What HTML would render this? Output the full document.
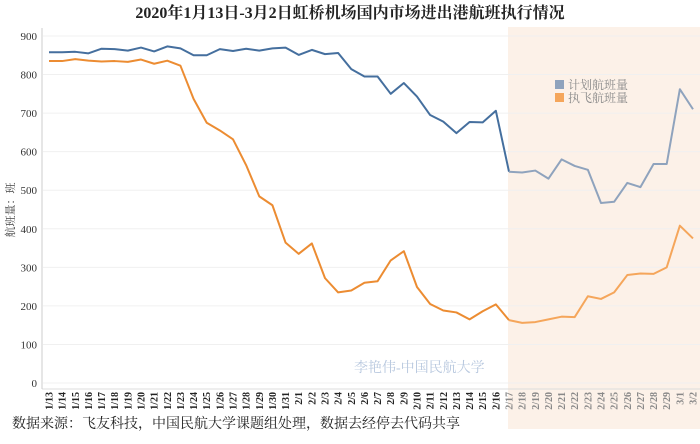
<!DOCTYPE html>
<html><head><meta charset="utf-8"><style>
body{margin:0;background:#fff;}
svg text{font-family:"Liberation Serif","Noto Serif CJK SC",serif;}
</style></head><body>
<svg id="chart" width="700" height="439" xmlns="http://www.w3.org/2000/svg">
<rect x="508" y="27" width="192" height="402" fill="#fcf1e8"/>
<text x="350" y="18" text-anchor="middle" font-size="16" font-weight="bold" fill="#222">2020年1月13日-3月2日虹桥机场国内市场进出港航班执行情况</text>
<g id="grid"></g><g id="yt"></g><g id="xt"></g><g id="lines"></g>
<line x1="42" y1="28" x2="42" y2="389" stroke="#ccc"/>
<text x="14" y="210" font-size="11" fill="#444" transform="rotate(-90 14 210)" text-anchor="middle">航班量：班</text>
<g>
<rect x="555" y="80" width="9" height="9" fill="#8fa3bd"/>
<text x="568" y="89" font-size="12" fill="#8a8a8a">计划航班量</text>
<rect x="555" y="93" width="9" height="9" fill="#f5a65b"/>
<text x="568" y="102" font-size="12" fill="#8a8a8a">执飞航班量</text>
</g>
<text x="354" y="372" font-size="14" fill="#b7c7de">李艳伟-中国民航大学</text>
<text x="12" y="428" font-size="14" fill="#222">数据来源：飞友科技，中国民航大学课题组处理，数据去经停去代码共享</text>
</svg>
<script>
const dates=["1/13","1/14","1/15","1/16","1/17","1/18","1/19","1/20","1/21","1/22","1/23","1/24","1/25","1/26","1/27","1/28","1/29","1/30","1/31","2/1","2/2","2/3","2/4","2/5","2/6","2/7","2/8","2/9","2/10","2/11","2/12","2/13","2/14","2/15","2/16","2/17","2/18","2/19","2/20","2/21","2/22","2/23","2/24","2/25","2/26","2/27","2/28","2/29","3/1","3/2"];
const planned=[858,858,859,855,867,866,862,870,860,873,868,850,850,866,861,867,862,868,870,851,864,853,856,814,795,795,750,778,743,695,678,648,677,676,706,548,546,551,530,580,563,553,467,470,519,508,568,568,762,710];
const executed=[835,835,840,836,834,835,833,839,828,836,823,737,675,655,632,565,484,461,364,335,362,272,235,240,260,264,318,342,249,205,188,183,165,186,204,163,156,158,165,172,171,225,218,235,280,284,283,300,408,375];
const yTicks=[0,100,200,300,400,500,600,700,800,900];
const splitIndex=35;
const NS="http://www.w3.org/2000/svg";
const X=i=>49+i*(693-49)/(dates.length-1);
const Y=v=>383-v*(347/900);
function mk(t,a,p){const e=document.createElementNS(NS,t);for(const k in a)e.setAttribute(k,a[k]);p.appendChild(e);return e;}
const grid=document.getElementById('grid'),yt=document.getElementById('yt'),xt=document.getElementById('xt'),ln=document.getElementById('lines');
yTicks.forEach(v=>{
 const g=mk('line',{x1:43,x2:700,y1:Y(v),y2:Y(v),stroke:'#f0f0f0'},grid);
 
 
 const t=mk('text',{x:37,y:Y(v)+4,'text-anchor':'end','font-size':11,fill:'#333'},yt);
 t.textContent=v;
 
 
});
mk('line',{x1:42,x2:700,y1:389,y2:389,stroke:'#ddd'},grid);
dates.forEach((d,i)=>{
 const t=mk('text',{x:0,y:0,'font-size':10,'font-weight':'bold',fill:i>=splitIndex?'#888':'#222','text-anchor':'end',transform:`translate(${X(i)+3.5},392) rotate(-90)`},xt);
 t.textContent=d;
 
 
});
function draw(arr,c1,c2,name){
 const p1=arr.slice(0,splitIndex+1).map((v,i)=>X(i)+','+Y(v)).join(' ');
 const p2=arr.slice(splitIndex).map((v,i)=>X(i+splitIndex)+','+Y(v)).join(' ');
 const a=mk('polyline',{points:p1,fill:'none',stroke:c1,'stroke-width':2,'stroke-linejoin':'round'},ln);
 
 
 const b=mk('polyline',{points:p2,fill:'none',stroke:c2,'stroke-width':2,'stroke-linejoin':'round'},ln);
 
 
}
draw(planned,'#456f9e','#8fa3bd','planned');
draw(executed,'#ec8c32','#f5a65b','executed');
</script>
</body></html>
